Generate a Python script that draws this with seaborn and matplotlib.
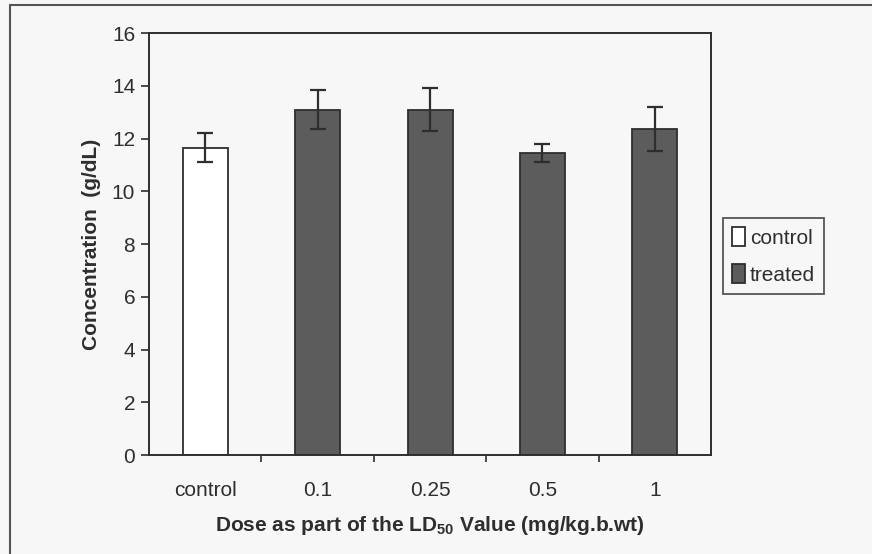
import numpy as np
import pandas as pd
import matplotlib
matplotlib.use("Agg")
import matplotlib.pyplot as plt
from matplotlib.lines import Line2D
import seaborn as sns

sns.set_style("white")
plt.rcParams['font.family'] = ['Liberation Sans', 'DejaVu Sans']
plt.rcParams['mathtext.fontset'] = 'custom'
plt.rcParams['mathtext.rm'] = 'Liberation Sans:bold'
plt.rcParams['mathtext.bf'] = 'Liberation Sans:bold'

# 数据
doses = ['control', '0.1', '0.25', '0.5', '1']
groups = ['control', 'treated', 'treated', 'treated', 'treated']
conc = [11.65, 13.1, 13.1, 11.45, 12.37]
sd = [0.55, 0.75, 0.8, 0.33, 0.83]

df = pd.DataFrame({'dose': doses, 'group': groups, 'conc': conc})

ink = '#2e2e2e'
bg = '#f7f7f7'
fs = 15

fig = plt.figure(figsize=(8.72, 5.54), dpi=100, facecolor=bg)
ax = fig.add_axes([0.1709, 0.1787, 0.6445, 0.7617])
ax.set_facecolor(bg)

sns.barplot(data=df, x='dose', y='conc', hue='group', dodge=False,
            palette={'control': 'white', 'treated': '#5c5c5c'},
            edgecolor=ink, linewidth=1.3, width=0.4, ax=ax, legend=False)
ax.errorbar(x=np.arange(len(doses)), y=conc, yerr=sd, fmt='none',
            ecolor=ink, elinewidth=1.6, capsize=6, capthick=1.6)

ax.set_xlim(-0.5, 4.5)
ax.set_ylim(0, 16)
ax.set_yticks(np.arange(0, 17, 2))
ax.set_xticks(np.arange(len(doses)))
ax.set_xticklabels(doses)
ax.set_xticks(np.arange(0.5, len(doses) - 1, 1), minor=True)
ax.tick_params(axis='x', which='major', length=0, pad=19, labelsize=fs, colors=ink)
ax.tick_params(axis='x', which='minor', direction='out', length=5, width=1.2, color=ink, bottom=True)
ax.tick_params(axis='y', direction='out', length=6, width=1.2, pad=4, labelsize=fs,
               colors=ink, left=True)
for s in ax.spines.values():
    s.set_color(ink)
    s.set_linewidth(1.4)

ax.set_xlabel('Dose as part of the LD$_{50}$ Value (mg/kg.b.wt)', fontsize=fs,
              fontweight='bold', color=ink, labelpad=10)
ax.set_ylabel('Concentration  (g/dL)', fontsize=fs, fontweight='bold', color=ink, labelpad=8)

handles = [plt.Rectangle((0, 0), 1, 1, facecolor='white', edgecolor=ink, linewidth=1.3),
           plt.Rectangle((0, 0), 1, 1, facecolor='#5c5c5c', edgecolor=ink, linewidth=1.3)]
leg = fig.legend(handles, ['control', 'treated'], loc='upper left',
                 bbox_to_anchor=(0.829, 0.6065), fontsize=fs, frameon=True,
                 fancybox=False, handlelength=0.6, handleheight=1.0, handletextpad=0.25,
                 labelspacing=0.8, borderpad=0.45, borderaxespad=0)
leg.get_frame().set_edgecolor(ink)
leg.get_frame().set_linewidth(1.3)
leg.get_frame().set_facecolor(bg)
for t in leg.get_texts():
    t.set_color(ink)

# 扫描页面的边框线
fig.add_artist(Line2D([0.012, 1.0], [0.991, 0.991], color='#555555', lw=1.5))
fig.add_artist(Line2D([0.012, 0.012], [0.0, 0.991], color='#555555', lw=1.5))

fig.savefig('out.png', dpi=100, facecolor=bg)
